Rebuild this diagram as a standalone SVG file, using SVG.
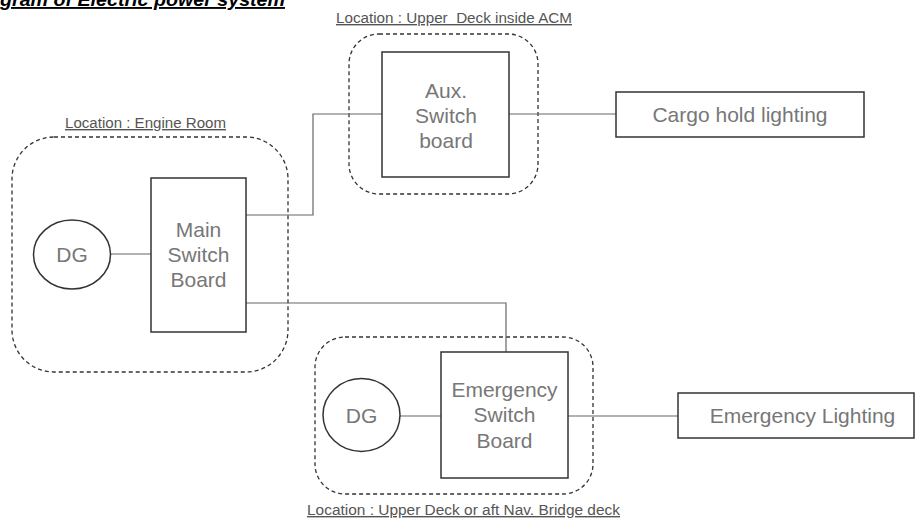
<svg xmlns="http://www.w3.org/2000/svg" width="915" height="521" viewBox="0 0 915 521">
<style>
.zone{fill:none;stroke:#333;stroke-width:1.3;stroke-dasharray:4 3}
.box{fill:#fff;stroke:#333;stroke-width:1.5}
.wire{fill:none;stroke:#666;stroke-width:1.2}
.lbl{font-family:"Liberation Sans",Arial,sans-serif;font-size:14px;fill:#555;text-decoration:underline}
.txt{font-family:"Liberation Sans",Arial,sans-serif;font-size:21px;fill:#777;text-anchor:middle}
.title{font-family:"Liberation Sans",Arial,sans-serif;font-size:19px;font-weight:bold;font-style:italic;fill:#000;text-decoration:underline}
</style>
<rect width="915" height="521" fill="#fff"/>
<text class="title" x="0" y="6" textLength="285" lengthAdjust="spacingAndGlyphs">gram of Electric power system</text>
<g id="zones">
<rect class="zone" x="12" y="137" width="276" height="235" rx="42"/>
<rect class="zone" x="349" y="34" width="189" height="160" rx="30"/>
<rect class="zone" x="315" y="337" width="278" height="157" rx="30"/>
<text class="lbl" x="65" y="128" textLength="161" lengthAdjust="spacingAndGlyphs">Location : Engine Room</text>
<text class="lbl" x="336" y="23" textLength="236" lengthAdjust="spacingAndGlyphs" xml:space="preserve">Location : Upper  Deck inside ACM</text>
<text class="lbl" x="307" y="515" textLength="313" lengthAdjust="spacingAndGlyphs">Location : Upper Deck or aft Nav. Bridge deck</text>
</g>
<g id="connectors">
<path class="wire" d="M110 254H151"/>
<path class="wire" d="M246 215H313V114H382"/>
<path class="wire" d="M509 114H616"/>
<path class="wire" d="M246 303H506V352"/>
<path class="wire" d="M400 416H441"/>
<path class="wire" d="M568 416H678"/>
</g>
<g id="dg-main">
<ellipse class="box" cx="72" cy="254.5" rx="38.5" ry="34.5"/>
<text class="txt" x="72" y="262">DG</text>
</g>
<g id="main-switch-board">
<rect class="box" x="151" y="178" width="95" height="154"/>
<text class="txt" x="198.5" y="237">Main</text>
<text class="txt" x="198.5" y="262">Switch</text>
<text class="txt" x="198.5" y="287">Board</text>
</g>
<g id="aux-switch-board">
<rect class="box" x="382" y="52" width="127" height="125"/>
<text class="txt" x="446" y="98">Aux.</text>
<text class="txt" x="446" y="123">Switch</text>
<text class="txt" x="446" y="148">board</text>
</g>
<g id="cargo-hold-lighting">
<rect class="box" x="616" y="92" width="248" height="45"/>
<text class="txt" x="740" y="121.5">Cargo hold lighting</text>
</g>
<g id="dg-emergency">
<ellipse class="box" cx="361.5" cy="415" rx="38.5" ry="36.5"/>
<text class="txt" x="361.5" y="422.5">DG</text>
</g>
<g id="emergency-switch-board">
<rect class="box" x="441" y="352" width="127" height="126"/>
<text class="txt" x="504.5" y="397">Emergency</text>
<text class="txt" x="504.5" y="422">Switch</text>
<text class="txt" x="504.5" y="447.5">Board</text>
</g>
<g id="emergency-lighting">
<rect class="box" x="678" y="393" width="236" height="45"/>
<text class="txt" x="802.5" y="422.5">Emergency Lighting</text>
</g>
</svg>
